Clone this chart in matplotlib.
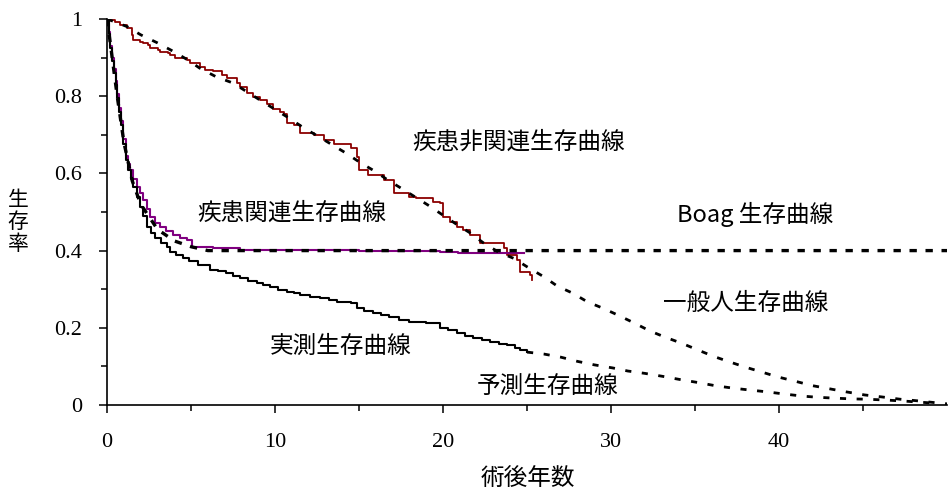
import matplotlib
matplotlib.use("Agg")
import matplotlib.pyplot as plt
from matplotlib.ticker import FixedLocator, FixedFormatter

CJK = ["Noto Sans CJK JP", "DejaVu Sans"]
SERIF = "Liberation Serif"

# 疾患非関連生存曲線 (step)
red_x = [0, 0.18, 0.48, 0.77, 1.17, 1.47, 1.57, 1.96, 2.16, 2.46, 2.56, 3.05, 3.15,
         3.65, 3.75, 4.05, 4.74, 4.94, 5.54, 5.83, 6.33, 6.82, 7.12, 7.72, 7.92, 8.31,
         8.71, 9.11, 9.5, 9.9, 10.3, 10.5, 10.7, 11.1, 11.5, 12.3, 12.9, 13.5, 14.5,
         14.9, 15.0, 15.5, 16.5, 17.05, 18.0, 18.4, 19.4, 19.8, 20.0, 20.4, 20.8,
         21.2, 21.6, 22.2, 23.6, 23.8, 24.4, 24.6, 25.2, 25.3]
red_y = [1, 0.997, 0.993, 0.984, 0.976, 0.959, 0.946, 0.941, 0.937, 0.933, 0.924, 0.92,
         0.915, 0.911, 0.907, 0.898, 0.894, 0.885, 0.876, 0.868, 0.864, 0.855, 0.846,
         0.833, 0.825, 0.807, 0.799, 0.79, 0.779, 0.766, 0.76, 0.755, 0.73, 0.725,
         0.704, 0.699, 0.686, 0.676, 0.665, 0.643, 0.609, 0.596, 0.583, 0.548, 0.54,
         0.535, 0.527, 0.523, 0.488, 0.475, 0.462, 0.453, 0.44, 0.42, 0.407, 0.389,
         0.376, 0.345, 0.337, 0.324]

# 疾患関連生存曲線 (step)
pur_x = [0, 0.1, 0.2, 0.3, 0.4, 0.5, 0.6, 0.7, 0.8, 0.95, 1.1, 1.25, 1.37, 1.55, 1.79,
         1.96, 2.14, 2.35, 2.56, 2.86, 3.15, 3.5, 3.93, 4.35, 4.76, 5.06, 6.3, 7.9,
         10.4, 15.0, 19.8, 20.9, 24.8]
pur_y = [1, 0.965, 0.93, 0.9, 0.87, 0.84, 0.805, 0.77, 0.735, 0.69, 0.645, 0.625, 0.609,
         0.585, 0.565, 0.548, 0.531, 0.508, 0.487, 0.472, 0.461, 0.45, 0.44, 0.432,
         0.427, 0.409, 0.406, 0.402, 0.401, 0.4, 0.397, 0.394, 0.394]

# 実測生存曲線 (step)
obs_x = [0, 0.1, 0.2, 0.3, 0.4, 0.5, 0.6, 0.7, 0.8, 0.95, 1.1, 1.25, 1.4, 1.55, 1.75,
         1.96, 2.15, 2.38, 2.6, 2.86, 3.2, 3.57, 3.75, 4.1, 4.5, 4.9, 5.4, 6.1, 6.6,
         7.1, 7.5, 7.9, 8.4, 8.9, 9.3, 9.7, 10.2, 10.7, 11.1, 11.5, 12.1, 12.7, 13.2,
         13.7, 14.5, 14.9, 15.3, 15.8, 16.3, 16.8, 17.4, 18.0, 19.0, 19.8, 20.3, 20.8,
         21.3, 21.8, 22.3, 22.8, 23.3, 23.8, 24.3, 24.6, 25.0]
obs_y = [1, 0.96, 0.925, 0.89, 0.86, 0.83, 0.795, 0.76, 0.725, 0.675, 0.635, 0.609,
         0.585, 0.565, 0.54, 0.513, 0.49, 0.461, 0.445, 0.433, 0.42, 0.409, 0.396,
         0.388, 0.38, 0.372, 0.363, 0.35, 0.346, 0.342, 0.335, 0.329, 0.322, 0.316,
         0.311, 0.306, 0.299, 0.293, 0.289, 0.285, 0.281, 0.277, 0.272, 0.267, 0.264,
         0.251, 0.244, 0.238, 0.233, 0.228, 0.221, 0.215, 0.212, 0.2, 0.193, 0.187,
         0.18, 0.174, 0.168, 0.163, 0.159, 0.155, 0.148, 0.142, 0.137]

# 一般人生存曲線
gen_x = [0, 1.2, 2.0, 3.0, 3.9, 4.8, 5.5, 6.5, 7.5, 9.1, 10.8, 11.7, 12.6, 14.2, 15.1,
         16.0, 16.7, 17.6, 19.1, 20.7, 21.6, 22.4, 23.3, 24.2, 25.0, 26.0, 26.8, 27.7,
         28.6, 29.5, 30.4, 31.4, 32.3, 33.2, 34.2, 35.2, 36.1, 37.1, 38.0, 39.0, 39.9,
         41.1, 42.0, 43.0, 44.0, 45.1, 46.1, 47.2, 48.2, 49.3, 50]
gen_y = [1, 0.98, 0.959, 0.938, 0.917, 0.894, 0.873, 0.85, 0.834, 0.79, 0.744, 0.718,
         0.695, 0.653, 0.627, 0.604, 0.583, 0.559, 0.518, 0.471, 0.446, 0.42, 0.396,
         0.38, 0.358, 0.332, 0.308, 0.29, 0.267, 0.251, 0.233, 0.212, 0.192, 0.176,
         0.16, 0.142, 0.126, 0.111, 0.098, 0.085, 0.073, 0.06, 0.05, 0.042, 0.034,
         0.026, 0.021, 0.015, 0.011, 0.006, 0.003]

# 予測生存曲線
pred_x = [25.0, 26.0, 27.0, 28.0, 29.0, 30.1, 31.0, 32.0, 33.1, 34.1, 35.2, 36.2, 37.2,
          38.2, 39.3, 40.2, 41.4, 42.3, 43.2, 44.2, 45.2, 46.3, 47.5, 48.5, 49.5]
pred_y = [0.137, 0.132, 0.124, 0.113, 0.104, 0.096, 0.088, 0.082, 0.074, 0.066, 0.058,
          0.05, 0.044, 0.039, 0.034, 0.029, 0.023, 0.02, 0.018, 0.016, 0.015, 0.013,
          0.01, 0.007, 0.004]

# Boag 生存曲線 (cure fraction 0.4)
boag_x = [0, 0.3, 0.6, 1.0, 1.5, 2.0, 3.0, 4.0, 5.0, 6.0, 50]
boag_y = [1, 0.9, 0.8, 0.68, 0.58, 0.52, 0.455, 0.425, 0.41, 0.40, 0.40]

x_ticks = [0, 10, 20, 30, 40]
y_ticks = [0, 0.2, 0.4, 0.6, 0.8, 1.0]
y_tick_labels = ["0", "0.2", "0.4", "0.6", "0.8", "1"]

labels = [
    ("疾患非関連生存曲線", 24.5, 0.681),
    ("疾患関連生存曲線", 11.0, 0.497),
    ("Boag 生存曲線", 38.6, 0.494),
    ("一般人生存曲線", 38.0, 0.262),
    ("実測生存曲線", 13.9, 0.153),
    ("予測生存曲線", 26.25, 0.047),
]

fig = plt.figure(figsize=(9.48, 4.93), dpi=100)
ax = fig.add_axes([0.113, 0.1785, 0.886, 0.783])

ax.plot(red_x, red_y, drawstyle="steps-post", color="#8b0000", lw=1.3, zorder=2)
ax.plot(pur_x, pur_y, drawstyle="steps-post", color="#800080", lw=1.5, zorder=2)
ax.plot(obs_x, obs_y, drawstyle="steps-post", color="black", lw=1.5, zorder=2)

ax.plot(gen_x, gen_y, color="black", lw=2.0, dashes=(2.2, 3.8), zorder=3)
ax.plot(pred_x, pred_y, color="black", lw=2.0, dashes=(2.2, 3.8), zorder=3)
ax.plot(boag_x, boag_y, color="black", lw=2.4, dashes=(2.2, 2.6), zorder=3)

for txt, x, y in labels:
    ax.text(x, y, txt, ha="center", va="center", fontsize=17, family=CJK)

ax.set_xlim(0, 50)
ax.set_ylim(0, 1)
ax.spines["top"].set_visible(False)
ax.spines["right"].set_visible(False)
for s in ("left", "bottom"):
    ax.spines[s].set_linewidth(1.2)

ax.xaxis.set_major_locator(FixedLocator(x_ticks))
ax.xaxis.set_minor_locator(FixedLocator([5, 15, 25, 35, 45]))
ax.yaxis.set_major_locator(FixedLocator(y_ticks))
ax.yaxis.set_major_formatter(FixedFormatter(y_tick_labels))
ax.yaxis.set_minor_locator(FixedLocator([0.1, 0.3, 0.5, 0.7, 0.9]))
ax.tick_params(which="major", direction="out", length=6, width=1.1, pad=12)
ax.tick_params(axis="x", which="major", pad=14)
ax.tick_params(which="minor", direction="out", length=4, width=1.1)
for lab in ax.get_xticklabels() + ax.get_yticklabels():
    lab.set_fontfamily(SERIF)
    lab.set_fontsize(16)

fig.text(0.557, 0.03, "術後年数", ha="center", va="center", fontsize=17, family=CJK)
fig.text(0.019, 0.55, "生\n存\n率", ha="center", va="center", fontsize=15,
         family=CJK, linespacing=1.0)

fig.savefig("out.png", dpi=100)
